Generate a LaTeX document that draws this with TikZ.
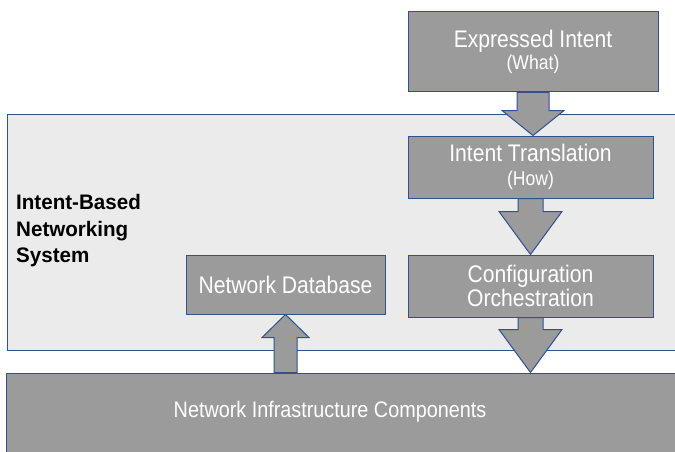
\documentclass[tikz,border=0pt]{standalone}
\usepackage{fontspec}
\setmainfont{Liberation Sans}[FakeStretch=0.88]
\newfontfamily\labelfont{Liberation Sans}[FakeStretch=0.98]
\usetikzlibrary{calc}
\definecolor{edgeblue}{RGB}{47,82,143}
\definecolor{boxgray}{RGB}{155,155,155}
\definecolor{sysgray}{RGB}{235,235,235}
\tikzset{
  graybox/.style={draw=edgeblue, fill=boxgray, line width=1pt, text=white, align=center, inner sep=0pt, font=\fontsize{24}{24}\selectfont},
  sysbox/.style={draw=edgeblue, fill=sysgray, line width=1pt, inner sep=0pt},
  blockarrow/.style={draw=edgeblue, fill=boxgray, line width=1pt, line join=miter}
}
\newcommand{\sub}[1]{{\fontsize{20}{22}\selectfont #1}}
% #1 start, #2 end, #3 shaft half width, #4 head half width, #5 signed head length (positive for down arrows)
\newcommand{\blockarrow}[5]{%
  \draw[blockarrow] let \p1=(#1), \p2=(#2) in
    (\x1-#3,\y1) -- (\x1+#3,\y1) -- (\x1+#3,\y2+#5) -- (\x1+#4,\y2+#5) -- (\x1,\y2)
    -- (\x1-#4,\y2+#5) -- (\x1-#3,\y2+#5) -- cycle;}
\begin{document}
\begin{tikzpicture}[x=1pt,y=-1pt]
\useasboundingbox (0,0) rectangle (675,452);
\fill[white] (0,0) rectangle (675,452);
% system box
\node[sysbox, minimum width=678pt, minimum height=236pt] (sys) at (346,232) {};
\node[anchor=west, align=left, inner sep=0pt, font=\labelfont\bfseries\fontsize{21}{26.5}\selectfont] (syslabel) at (16,231) {Intent-Based\\Networking\\System};
% boxes
\node[graybox, minimum width=250pt, minimum height=80pt] (exp) at (533,52) {Expressed Intent\\[-2pt]\sub{(What)}};
\node[graybox, minimum width=245pt, minimum height=62pt] (trans) at (530.5,167) {Intent Translation\\\sub{(How)}};
\node[graybox, minimum width=245pt, minimum height=62pt] (conf) at (530.5,286) {Configuration\\Orchestration};
\node[graybox, minimum width=199pt, minimum height=59pt] (db) at (285.5,284.5) {Network Database};
\node[graybox, minimum width=684pt, minimum height=90pt] (infra) at (348,418) {};
\node[text=white, inner sep=0pt, font=\fontsize{22.5}{24}\selectfont] (infratext) at (330,412) {Network Infrastructure Components};
\coordinate (dbfoot) at (db.south |- infra.north);
\coordinate (conffoot) at (conf.south |- infra.north);
% arrows
\blockarrow{exp.south}{trans.north}{16pt}{31pt}{25pt}
\blockarrow{trans.south}{conf.north}{12.5pt}{31.5pt}{43pt}
\blockarrow{conf.south}{conffoot}{12.5pt}{31.5pt}{43pt}
\blockarrow{dbfoot}{db.south}{11.5pt}{23.5pt}{-23pt}
\end{tikzpicture}
\end{document}
